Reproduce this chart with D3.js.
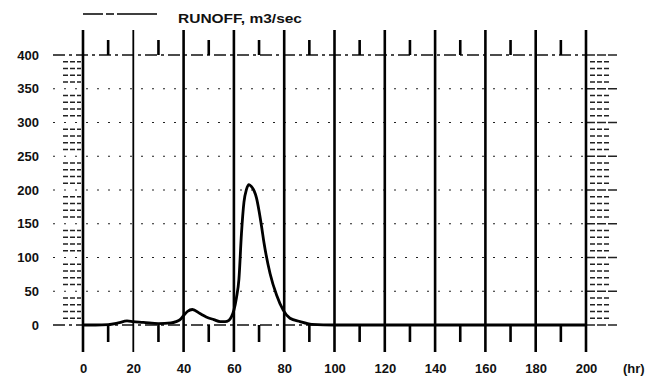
<!DOCTYPE html>
<html>
<head>
<meta charset="utf-8">
<script src="https://cdn.jsdelivr.net/npm/d3@7"></script>
<style>
  html, body { margin: 0; padding: 0; background: #fff; }
  svg { display: block; }
  text { font-family: "Liberation Sans", Arial, sans-serif; font-weight: bold; fill: #111; }
</style>
</head>
<body>
<svg id="chart" width="655" height="377"></svg>
<script>
// ---- data ----
const hours  = [0, 5, 10, 14, 17.5, 20, 24, 30, 35, 37, 38.6, 40, 41.5, 43.5, 46.5, 49, 52, 54.5, 56.5, 58, 59, 60, 61, 62, 63, 64, 65, 66, 67, 68, 69, 70, 71, 72, 74.4, 77, 79.6, 82.3, 86.3, 91, 100, 120, 140, 160, 180, 200];
const runoff = [0, 0, 0.5, 3, 6, 5, 4, 2, 3, 5, 8, 14, 20, 23, 17, 12, 8, 5, 5, 7, 12, 22, 40, 68, 135, 182, 201, 208, 205, 199, 188, 169, 146, 121, 76, 44, 22, 10, 5, 1, 0, 0, 0, 0, 0, 0];
const xTicks = [0, 20, 40, 60, 80, 100, 120, 140, 160, 180, 200];
const yTicks = [0, 50, 100, 150, 200, 250, 300, 350, 400];
const legendLabel = "RUNOFF, m3/sec";
const xUnit = "(hr)";

// ---- layout ----
const svg = d3.select("#chart");
const x = d3.scaleLinear().domain([0, 200]).range([83, 586]);
const y = d3.scaleLinear().domain([0, 400]).range([325, 55]);
const yTopLine = 30, yBotLine = 352;

// horizontal dotted grid (50..350)
svg.append("g").selectAll("line")
  .data(yTicks.filter(v => v > 0 && v < 400))
  .join("line")
  .attr("x1", 53).attr("x2", 586)
  .attr("y1", d => y(d)).attr("y2", d => y(d))
  .attr("stroke", "#222").attr("stroke-width", 1.2)
  .attr("stroke-dasharray", "2,9");

// 0 and 400 dashed lines
svg.append("g").selectAll("line")
  .data([0, 400])
  .join("line")
  .attr("x1", 53).attr("x2", 586)
  .attr("y1", d => y(d)).attr("y2", d => y(d))
  .attr("stroke", "#111").attr("stroke-width", 1.5)
  .attr("stroke-dasharray", "12,4,3,4");

// left minor ticks (every 10) and right ticks
const minor = d3.range(0, 401, 10).filter(v => v % 50 !== 0);
svg.append("g").selectAll("line")
  .data(minor).join("line")
  .attr("x1", 63).attr("x2", 81)
  .attr("y1", d => y(d)).attr("y2", d => y(d))
  .attr("stroke", "#222").attr("stroke-width", 1.3)
  .attr("stroke-dasharray", "5,2");
svg.append("g").selectAll("line")
  .data(minor).join("line")
  .attr("x1", 590).attr("x2", 609)
  .attr("y1", d => y(d)).attr("y2", d => y(d))
  .attr("stroke", "#222").attr("stroke-width", 1.3)
  .attr("stroke-dasharray", "5,2");
svg.append("g").selectAll("line")
  .data(yTicks).join("line")
  .attr("x1", 586).attr("x2", 617)
  .attr("y1", d => y(d)).attr("y2", d => y(d))
  .attr("stroke", "#222").attr("stroke-width", 1.3)
  .attr("stroke-dasharray", "9,2");

// vertical heavy lines every 20 hr
svg.append("g").selectAll("line")
  .data(xTicks).join("line")
  .attr("x1", d => x(d)).attr("x2", d => x(d))
  .attr("y1", yTopLine).attr("y2", yBotLine)
  .attr("stroke", "#000").attr("stroke-width", d => (d === 20 ? 1.8 : 2.6));

// short ticks at odd tens (top and bottom)
const oddTicks = d3.range(10, 200, 20);
svg.append("g").selectAll("line")
  .data(oddTicks).join("line")
  .attr("x1", d => x(d)).attr("x2", d => x(d))
  .attr("y1", 40).attr("y2", y(400))
  .attr("stroke", "#000").attr("stroke-width", 2.6);
svg.append("g").selectAll("line")
  .data(oddTicks).join("line")
  .attr("x1", d => x(d)).attr("x2", d => x(d))
  .attr("y1", y(0)).attr("y2", 342)
  .attr("stroke", "#000").attr("stroke-width", 2.6);

// axes labels
const yAxis = d3.axisLeft(y).tickValues(yTicks).tickSize(0).tickPadding(44);
svg.append("g").attr("transform", `translate(${x(0)},0)`).call(yAxis)
  .call(g => g.select(".domain").remove())
  .call(g => g.selectAll("text").attr("font-size", 13)
    .attr("font-family", "Liberation Sans, Arial, sans-serif").attr("font-weight", "bold").attr("fill", "#111"));

const xAxis = d3.axisBottom(x).tickValues(xTicks).tickSize(0).tickPadding(28);
svg.append("g").attr("transform", `translate(0,${yBotLine})`).call(xAxis)
  .call(g => g.select(".domain").remove())
  .call(g => g.selectAll("text").attr("font-size", 13)
    .attr("font-family", "Liberation Sans, Arial, sans-serif").attr("font-weight", "bold").attr("fill", "#111")
    .attr("dy", 0).attr("y", 21));

svg.append("text").attr("x", 623).attr("y", 373).attr("font-size", 13).text(xUnit);

// runoff curve
const line = d3.line().x((d, i) => x(hours[i])).y(d => y(d)).curve(d3.curveMonotoneX);
svg.append("path").datum(runoff)
  .attr("d", line)
  .attr("fill", "none").attr("stroke", "#000").attr("stroke-width", 2.8)
  .attr("stroke-linejoin", "round");

// legend
svg.append("line").attr("x1", 83).attr("x2", 163).attr("y1", 14).attr("y2", 14)
  .attr("stroke", "#000").attr("stroke-width", 1.4).attr("stroke-dasharray", "20,3,8,3,40");
svg.append("text").attr("x", 178).attr("y", 23).attr("font-size", 13)
  .attr("textLength", 124).attr("lengthAdjust", "spacingAndGlyphs").text(legendLabel);
</script>
</body>
</html>
